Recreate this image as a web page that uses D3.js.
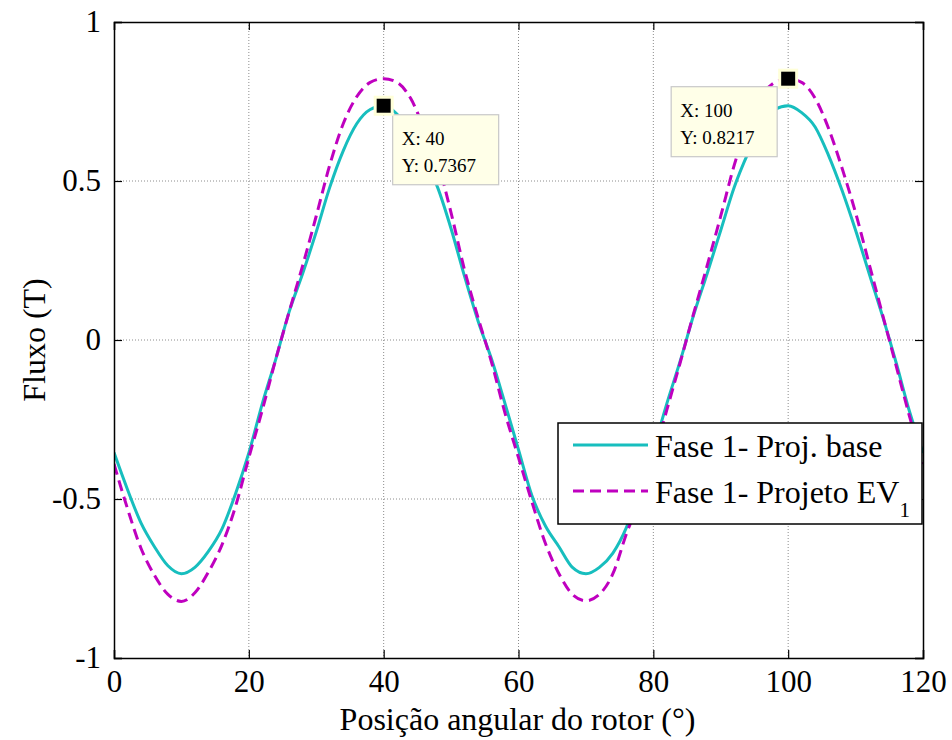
<!DOCTYPE html>
<html>
<head>
  <meta charset="UTF-8">
  <title>Fluxo - Fase 1</title>
  <script src="https://cdn.jsdelivr.net/npm/d3@7"></script>
  <style>
    #grafico text, #grafico tspan { font-family: 'Liberation Serif', 'Times New Roman', Times !important; }
  </style>
</head>
<body style="margin:0; background:#fff">
  <script>
    // dados (passo de 2 graus)
    const posicao = d3.range(0, 121, 2);
    const fluxoBase = [
      -0.354, -0.47, -0.575, -0.65, -0.71, -0.735, -0.715, -0.665, -0.595, -0.485,
      -0.355, -0.20, -0.06, 0.09, 0.21, 0.34, 0.48, 0.595, 0.68, 0.725,
      0.7367, 0.71, 0.65, 0.57, 0.48, 0.35, 0.20, 0.06, -0.06, -0.20,
      -0.345, -0.49, -0.585, -0.65, -0.715, -0.735, -0.715, -0.67, -0.59, -0.47,
      -0.345, -0.20, -0.065, 0.08, 0.21, 0.345, 0.48, 0.585, 0.67, 0.725,
      0.7367, 0.715, 0.67, 0.58, 0.47, 0.345, 0.21, 0.075, -0.07, -0.225, -0.355
    ];
    const fluxoEV1 = [
      -0.39, -0.53, -0.655, -0.74, -0.80, -0.822, -0.795, -0.73, -0.645, -0.525,
      -0.37, -0.22, -0.06, 0.09, 0.235, 0.39, 0.55, 0.68, 0.765, 0.81,
      0.8217, 0.81, 0.76, 0.665, 0.56, 0.40, 0.22, 0.07, -0.07, -0.23,
      -0.37, -0.51, -0.64, -0.735, -0.80, -0.82, -0.80, -0.735, -0.61, -0.50,
      -0.37, -0.22, -0.07, 0.085, 0.235, 0.39, 0.55, 0.675, 0.765, 0.81,
      0.8217, 0.81, 0.76, 0.665, 0.54, 0.40, 0.24, 0.08, -0.08, -0.24, -0.39
    ];
    const xTicks = [0, 20, 40, 60, 80, 100, 120];
    const yTicks = [-1, -0.5, 0, 0.5, 1];
    const series = [
      { nome: "Fase 1- Proj. base", valores: fluxoBase, cor: "#17bebe", dash: null },
      { nome: "Fase 1- Projeto EV", sub: "1", valores: fluxoEV1, cor: "#bf00bf", dash: "11,6" }
    ];
    const dataTips = [
      { x: 40, y: 0.7367, box: [9, 9] },
      { x: 100, y: 0.8217, box: [-117, 8] }
    ];

    const FONT = "'Liberation Serif', 'Times New Roman', Times";
    const width = 952, height = 740;
    const margin = { top: 22, right: 29, bottom: 82, left: 114 };

    const svg = d3.select("body").append("svg")
      .attr("id", "grafico")
      .attr("width", width)
      .attr("height", height);

    const x = d3.scaleLinear().domain([0, 120]).range([margin.left, width - margin.right]);
    const y = d3.scaleLinear().domain([-1, 1]).range([height - margin.bottom, margin.top]);

    const x0 = x.range()[0], x1 = x.range()[1];
    const y0 = y.range()[0], y1 = y.range()[1];

    // grade pontilhada
    const grid = svg.append("g").attr("stroke", "#8c8c8c").attr("stroke-width", 1).attr("stroke-dasharray", "1,2");
    grid.selectAll("line.gx").data(xTicks.slice(1, -1)).enter().append("line")
      .attr("x1", d => x(d)).attr("x2", d => x(d)).attr("y1", y1).attr("y2", y0);
    grid.selectAll("line.gy").data(yTicks.slice(1, -1)).enter().append("line")
      .attr("x1", x0).attr("x2", x1).attr("y1", d => y(d)).attr("y2", d => y(d));

    // curvas
    svg.append("clipPath").attr("id", "area").append("rect")
      .attr("x", x0).attr("y", y1).attr("width", x1 - x0).attr("height", y0 - y1);

    const linha = d3.line().x((d, i) => x(posicao[i])).y(d => y(d)).curve(d3.curveMonotoneX);
    svg.append("g").attr("clip-path", "url(#area)")
      .selectAll("path").data(series).enter().append("path")
      .attr("d", d => linha(d.valores))
      .attr("fill", "none")
      .attr("stroke", d => d.cor)
      .attr("stroke-width", 3)
      .attr("stroke-linejoin", "round")
      .attr("stroke-dasharray", d => d.dash);

    // eixos (ticks para dentro, nos 4 lados)
    const tk = 8;
    const axB = svg.append("g").attr("transform", `translate(0,${y0})`)
      .call(d3.axisBottom(x).tickValues(xTicks).tickSize(-tk).tickPadding(12).tickFormat(d3.format("d")));
    const axT = svg.append("g").attr("transform", `translate(0,${y1})`)
      .call(d3.axisTop(x).tickValues(xTicks).tickSize(-tk).tickFormat(""));
    const axL = svg.append("g").attr("transform", `translate(${x0},0)`)
      .call(d3.axisLeft(y).tickValues(yTicks).tickSize(-tk).tickPadding(13).tickFormat(d => String(d)));
    const axR = svg.append("g").attr("transform", `translate(${x1},0)`)
      .call(d3.axisRight(y).tickValues(yTicks).tickSize(-tk).tickFormat(""));
    [axB, axT, axL, axR].forEach(a => {
      a.attr("font-family", FONT).attr("font-size", 31);
      a.select(".domain").attr("stroke", "#000").attr("stroke-width", 1.5);
      a.selectAll(".tick line").attr("stroke", "#000").attr("stroke-width", 1.2);
      a.selectAll("text").attr("fill", "#000");
    });
    axB.selectAll("text").attr("dy", "0.71em");

    // titulos dos eixos
    svg.append("text")
      .attr("x", (x0 + x1) / 2 - 1).attr("y", 730)
      .attr("text-anchor", "middle")
      .attr("font-size", 32)
      .text("Posição angular do rotor (°)");
    svg.append("text")
      .attr("transform", `translate(45,${(y0 + y1) / 2}) rotate(-90)`)
      .attr("text-anchor", "middle")
      .attr("font-size", 32)
      .text("Fluxo (T)");

    // data tips
    const tips = svg.append("g");
    dataTips.forEach(t => {
      const px = x(t.x), py = y(t.y);
      const bx = px + t.box[0], by = py + t.box[1];
      const g = tips.append("g");
      g.append("rect")
        .attr("x", bx).attr("y", by).attr("width", 106).attr("height", 70)
        .attr("fill", "#ffffe8").attr("stroke", "#c8c8c8").attr("stroke-width", 1.2);
      g.append("text").attr("x", bx + 9).attr("y", by + 30)
        .attr("font-size", 19).text(`X: ${t.x}`);
      g.append("text").attr("x", bx + 9).attr("y", by + 57)
        .attr("font-size", 19).text(`Y: ${t.y}`);
      g.append("rect")
        .attr("x", px - 8.5).attr("y", py - 8.5).attr("width", 17).attr("height", 17)
        .attr("fill", "#000").attr("stroke", "#ffffd8").attr("stroke-width", 3);
    });

    // legenda
    const leg = svg.append("g").attr("transform", "translate(558,423)");
    leg.append("rect").attr("width", 364).attr("height", 101)
      .attr("fill", "#fff").attr("stroke", "#000").attr("stroke-width", 1.5);
    const item = leg.selectAll("g.item").data(series).enter().append("g")
      .attr("transform", (d, i) => `translate(0,${22 + i * 46})`);
    item.append("line")
      .attr("x1", 15).attr("x2", 90).attr("y1", 0).attr("y2", 0)
      .attr("stroke", d => d.cor).attr("stroke-width", 3)
      .attr("stroke-dasharray", d => d.dash);
    const lt = item.append("text").attr("x", 97).attr("y", 12)
      .attr("font-size", 32);
    lt.append("tspan").text(d => d.nome);
    lt.filter(d => d.sub).append("tspan")
      .attr("dy", 14).attr("font-size", 21).text(d => d.sub);

    // fonte serifada em todos os textos (inline, com prioridade)
    svg.selectAll("text, tspan").style("font-family", FONT, "important");
  </script>
</body>
</html>
